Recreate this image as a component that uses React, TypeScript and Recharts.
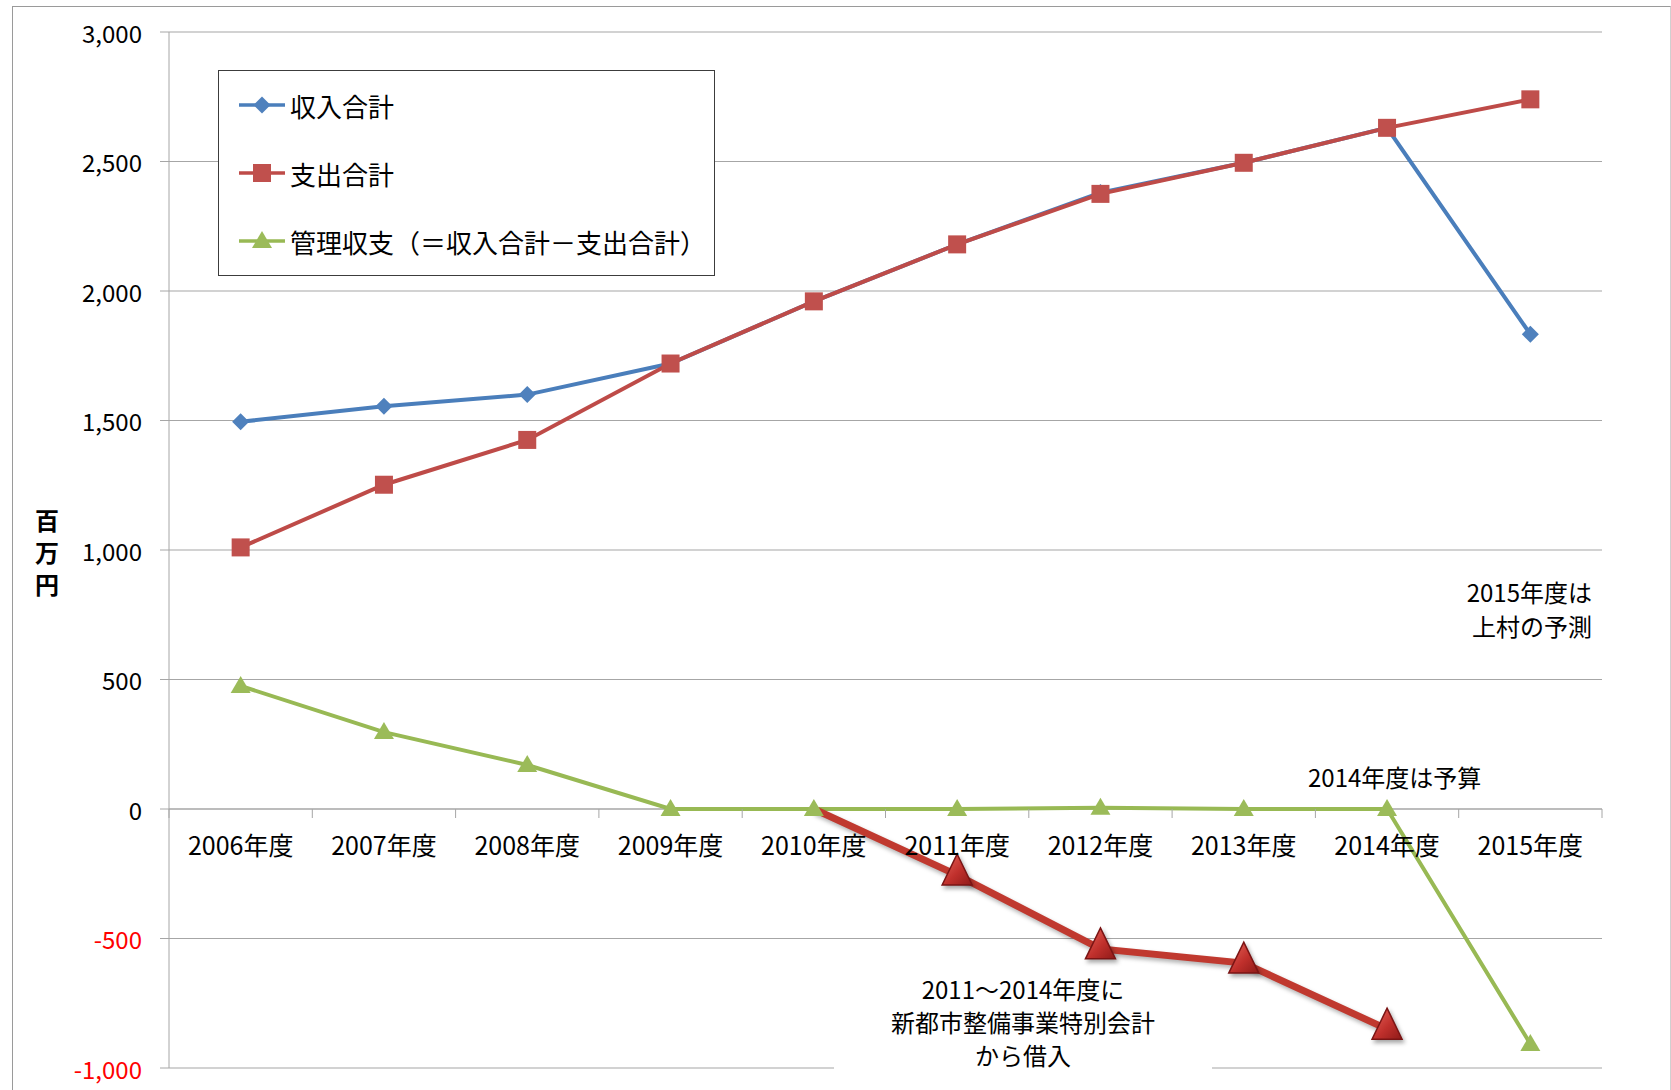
import React from 'react';
import { LineChart, Line, XAxis, YAxis, CartesianGrid, ReferenceLine, Legend } from 'recharts';

const years = ['2006年度', '2007年度', '2008年度', '2009年度', '2010年度', '2011年度', '2012年度', '2013年度', '2014年度', '2015年度'];
const income = [1495, 1555, 1600, 1720, 1960, 2180, 2380, 2495, 2630, 1833];
const expense = [1010, 1252, 1425, 1720, 1960, 2180, 2375, 2495, 2630, 2740];
const balance = [475, 297, 170, 0, 0, 0, 5, 0, 0, -907];
const borrowing = [null, null, null, null, 0, -255, -540, -595, -850, null];
const yTicks = [-1000, -500, 0, 500, 1000, 1500, 2000, 2500, 3000];

const seriesNames = { income: '収入合計', expense: '支出合計', balance: '管理収支（＝収入合計－支出合計）' };

const data = years.map((year, i) => ({
  year,
  income: income[i],
  expense: expense[i],
  balance: balance[i],
  borrowing: borrowing[i],
}));

// layout
const W = 1671;
const H = 1090;
const PLOT_LEFT = 169;
const PLOT_RIGHT = 1602;
const PLOT_TOP = 32;
const PLOT_BOTTOM = 1068;
const Y_MIN = -1000;
const Y_MAX = 3000;
const PLOT_W = PLOT_RIGHT - PLOT_LEFT;
const BAND = PLOT_W / years.length;
const ZERO_Y = PLOT_TOP + ((PLOT_BOTTOM - PLOT_TOP) * Y_MAX) / (Y_MAX - Y_MIN);
const FONT = "'Noto Sans CJK JP', 'Noto Sans', sans-serif";

const BLUE = '#4A7EBB';
const RED = '#BE4B48';
const GREEN = '#98B954';
const GRID = '#A6A6A6';

const fmt = (v: number) => v.toLocaleString('en-US');

const YTick = (props: any) => {
  const { x, y, payload } = props;
  const v = payload.value as number;
  return (
    <text x={x} y={y} textAnchor="end" dominantBaseline="central" fontSize={24} fontFamily={FONT}
      fill={v < 0 ? '#FF0000' : '#000'}>
      {fmt(v)}
    </text>
  );
};

const XTick = (props: any) => {
  const { x, payload } = props;
  const last = payload.value === years[years.length - 1];
  return (
    <g>
      <line x1={x - BAND / 2} x2={x - BAND / 2} y1={ZERO_Y} y2={ZERO_Y + 9} stroke={GRID} />
      {last && <line x1={x + BAND / 2} x2={x + BAND / 2} y1={ZERO_Y} y2={ZERO_Y + 9} stroke={GRID} />}
      <text x={x} y={ZERO_Y + 35} textAnchor="middle" dominantBaseline="central" fontSize={25}
        fontFamily={FONT} fill="#000">
        {payload.value}
      </text>
    </g>
  );
};

const Diamond = ({ cx, cy, r = 8.5, fill }: any) => (
  <path d={`M${cx},${cy - r}L${cx + r},${cy}L${cx},${cy + r}L${cx - r},${cy}Z`} fill={fill} />
);
const Square = ({ cx, cy, r = 9, fill }: any) => (
  <rect x={cx - r} y={cy - r} width={r * 2} height={r * 2} fill={fill} />
);
const Tri = ({ cx, cy, r = 10, fill }: any) => (
  <path d={`M${cx},${cy - r}L${cx + r},${cy + r * 0.7}L${cx - r},${cy + r * 0.7}Z`} fill={fill} />
);

const dotFn = (Shape: any, fill: string) => (props: any) => {
  const { cx, cy, index } = props;
  if (cx == null || cy == null) return <g key={`n${index}`} />;
  return <Shape key={`d${index}`} cx={cx} cy={cy} fill={fill} />;
};

const BigTri = (props: any) => {
  const { cx, cy, index, payload } = props;
  if (cx == null || cy == null || payload.borrowing === 0) return <g key={`b${index}`} />;
  return (
    <path key={`b${index}`} d={`M${cx},${cy - 21}L${cx + 15},${cy + 10}L${cx - 15},${cy + 10}Z`}
      fill="url(#triGrad)" stroke="#7A1414" strokeWidth={1.5}
      style={{ filter: 'drop-shadow(2px 3px 2px rgba(0,0,0,0.35))' }} />
  );
};

const legendShapes: Record<string, any> = {
  income: { Shape: Diamond, color: BLUE, fill: '#4F81BD' },
  expense: { Shape: Square, color: RED, fill: '#C0504D' },
  balance: { Shape: Tri, color: GREEN, fill: '#9BBB59' },
};

const renderLegend = (props: any) => {
  const items = (props.payload || []).filter((p: any) => legendShapes[p.dataKey]);
  return (
    <div style={{
      position: 'relative', width: 497, height: 206, border: '1px solid #3c3c3c',
      background: '#fff', boxSizing: 'border-box', fontFamily: FONT,
    }}>
      {items.map((p: any, i: number) => {
        const s = legendShapes[p.dataKey];
        return (
          <div key={p.dataKey} style={{
            position: 'absolute', left: 19, top: 34 + i * 68 - 18, height: 36,
            display: 'flex', alignItems: 'center', whiteSpace: 'nowrap',
          }}>
            <svg width={48} height={24}>
              <line x1={1} x2={47} y1={12} y2={12} stroke={s.color} strokeWidth={3.5} />
              <s.Shape cx={24} cy={12} fill={s.fill} />
            </svg>
            <span style={{ fontSize: 26, color: '#000', marginLeft: 4 }}>{p.value}</span>
          </div>
        );
      })}
    </div>
  );
};

export default function App() {
  return (
    <div style={{ position: 'absolute', left: 0, top: 0, width: W, height: H, background: '#fff', overflow: 'hidden' }}>
      <div style={{
        position: 'absolute', left: 12, top: 6, width: 1657, height: 1200,
        borderLeft: '1px solid #9a9a9a', borderTop: '1px solid #9a9a9a', borderRight: '1px solid #d0d0d0',
      }} />
      <div style={{ position: 'absolute', left: 0, top: 0 }}>
        <LineChart width={W} height={H} data={data}
          margin={{ top: PLOT_TOP, right: W - PLOT_RIGHT, left: PLOT_LEFT - 80, bottom: 0 }}>
          <defs>
            <linearGradient id="triGrad" x1="0" y1="0" x2="1" y2="1">
              <stop offset="0%" stopColor="#E8665C" />
              <stop offset="55%" stopColor="#C0302C" />
              <stop offset="100%" stopColor="#8E1A18" />
            </linearGradient>
          </defs>
          <CartesianGrid vertical={false} stroke={GRID} strokeWidth={1.2} />
          <XAxis dataKey="year" height={22} axisLine={false} tickLine={false} tick={<XTick />} interval={0}
            padding={{ left: BAND / 2, right: BAND / 2 }} />
          <YAxis domain={[Y_MIN, Y_MAX]} ticks={yTicks} width={80} tick={<YTick />} tickSize={9} tickMargin={18}
            axisLine={{ stroke: GRID }} tickLine={{ stroke: GRID }} allowDataOverflow />
          <ReferenceLine y={0} stroke={GRID} strokeWidth={1.2} />
          <Legend content={renderLegend} layout="horizontal" verticalAlign="middle" align="center"
            wrapperStyle={{ left: 218, top: 70, width: 497, height: 206 }} />
          <Line dataKey="income" name={seriesNames.income} stroke={BLUE} strokeWidth={4}
            dot={dotFn(Diamond, '#4F81BD')} activeDot={false} isAnimationActive={false} />
          <Line dataKey="expense" name={seriesNames.expense} stroke={RED} strokeWidth={4}
            dot={dotFn(Square, '#C0504D')} activeDot={false} isAnimationActive={false} />
          <Line dataKey="balance" name={seriesNames.balance} stroke={GREEN} strokeWidth={4}
            dot={dotFn(Tri, '#9BBB59')} activeDot={false} isAnimationActive={false} />
          <Line dataKey="borrowing" name="借入" legendType="none" stroke="#C0392F" strokeWidth={7}
            style={{ filter: 'drop-shadow(2px 3px 2px rgba(0,0,0,0.3))' }}
            dot={BigTri} activeDot={false} isAnimationActive={false} />
        </LineChart>
      </div>
      <div style={{
        position: 'absolute', left: 22, top: 504, width: 50, fontFamily: FONT, fontSize: 24,
        fontWeight: 'bold', lineHeight: '32px', textAlign: 'center', color: '#000',
      }}>
        百<br />万<br />円
      </div>
      <div style={{
        position: 'absolute', left: 1392, top: 575, width: 200, fontFamily: FONT, fontSize: 24,
        lineHeight: '34px', textAlign: 'right', color: '#000',
      }}>
        2015年度は<br />上村の予測
      </div>
      <div style={{
        position: 'absolute', left: 1308, top: 760, fontFamily: FONT, fontSize: 24,
        lineHeight: '34px', color: '#000', whiteSpace: 'nowrap',
      }}>
        2014年度は予算
      </div>
      <div style={{
        position: 'absolute', left: 834, top: 972, width: 378, height: 130, background: '#fff',
        fontFamily: FONT, fontSize: 24, lineHeight: '33px', textAlign: 'center', color: '#000',
      }}>
        2011～2014年度に<br />新都市整備事業特別会計<br />から借入
      </div>
    </div>
  );
}
